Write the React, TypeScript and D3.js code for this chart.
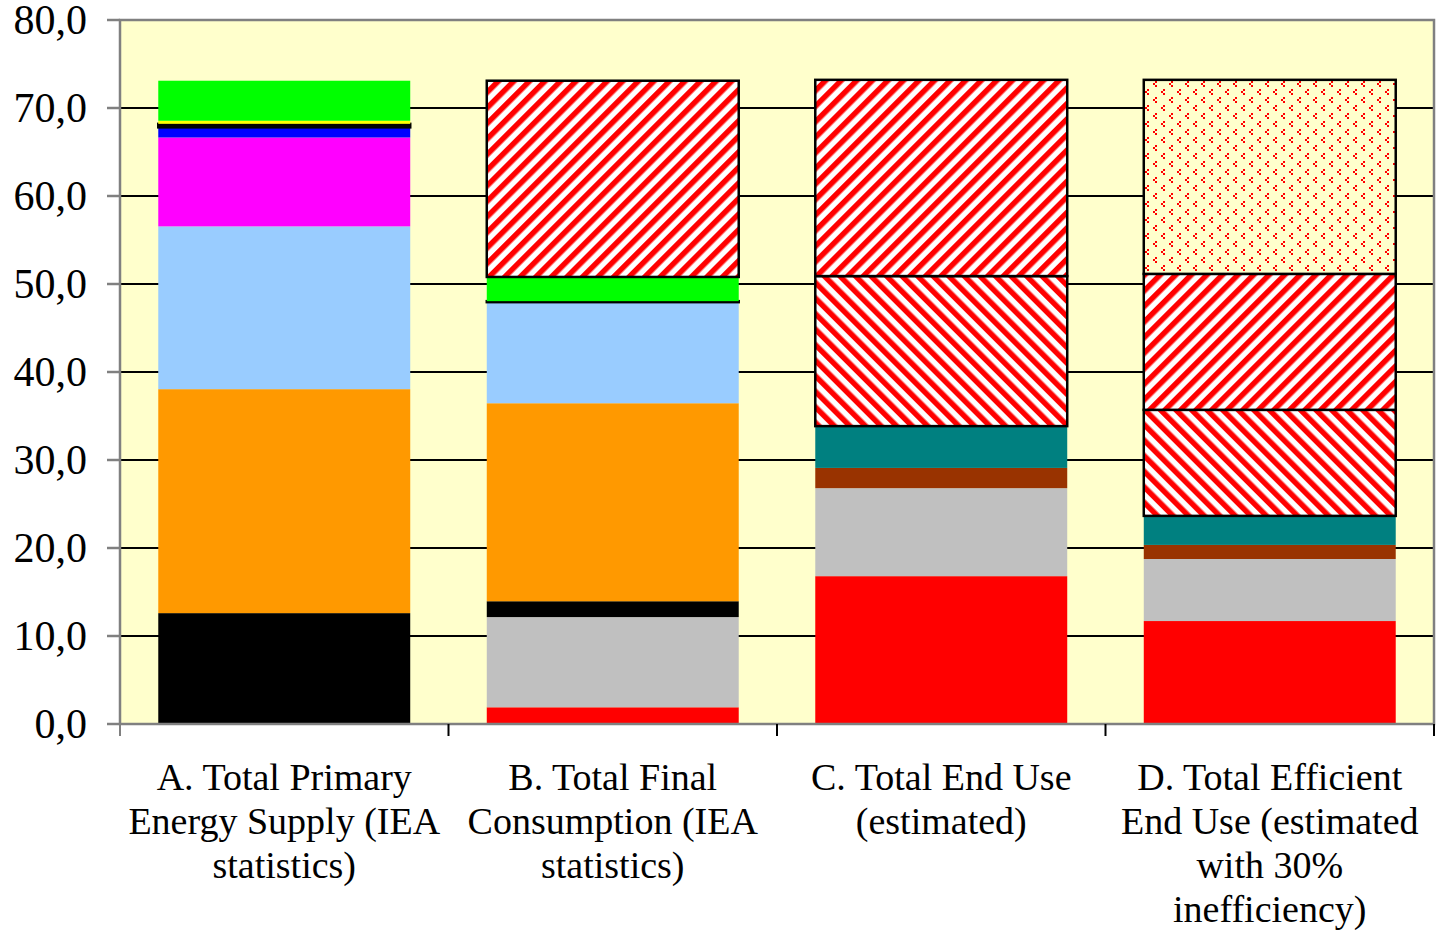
import React from "react";
import * as d3 from "d3";

const categories = ["A", "B", "C", "D"];
const categoryLabels = [
  ["A. Total Primary", "Energy Supply (IEA", "statistics)"],
  ["B. Total Final", "Consumption (IEA", "statistics)"],
  ["C. Total End Use", "(estimated)"],
  ["D. Total Efficient", "End Use (estimated", "with 30%", "inefficiency)"],
];

// series, stacked bottom to top; values per category A..D
const seriesKeys = [
  "electricity", "heat", "coal", "other1", "other2", "oil", "gas",
  "nuclear", "hydro", "misc", "yellow", "renewables",
  "hatchBack", "hatchFwd", "dotted",
];
const electricity = [0, 1.9, 16.8, 11.7];
const heat = [0, 10.25, 10.0, 7.05];
const coal = [12.6, 1.8, 0, 0];
const other1 = [0, 0, 2.3, 1.6];
const other2 = [0, 0, 4.75, 3.3];
const oil = [25.45, 22.5, 0, 0];
const gas = [18.5, 11.5, 0, 0];
const nuclear = [10.1, 0, 0, 0];
const hydro = [1.15, 0, 0, 0];
const misc = [0.4, 0.1, 0, 0];
const yellow = [0.35, 0, 0, 0];
const renewables = [4.55, 2.75, 0, 0];
const hatchBack = [0, 0, 17.05, 12.05];
const hatchFwd = [0, 22.3, 22.3, 15.45];
const dotted = [0, 0, 0, 22.05];

const seriesValues: Record<string, number[]> = {
  electricity, heat, coal, other1, other2, oil, gas, nuclear, hydro,
  misc, yellow, renewables, hatchBack, hatchFwd, dotted,
};

const fills: Record<string, string> = {
  electricity: "#FF0000",
  heat: "#C0C0C0",
  coal: "#000000",
  other1: "#993300",
  other2: "#008080",
  oil: "#FF9900",
  gas: "#99CCFF",
  nuclear: "#FF00FF",
  hydro: "#0000FF",
  misc: "#000000",
  yellow: "#FFFF00",
  renewables: "#00FF00",
  hatchBack: "url(#hatchBack)",
  hatchFwd: "url(#hatchFwd)",
  dotted: "url(#dotted)",
};
const outlined = new Set(["hatchBack", "hatchFwd", "dotted", "misc"]);

const yTicks = [0, 10, 20, 30, 40, 50, 60, 70, 80];

export default function App() {
  const W = 1436, H = 930;
  const left = 120, right = 1434, top = 20, bottom = 724;

  const x = d3.scaleBand<string>().domain(categories).range([left, right]).paddingInner(0.233).paddingOuter(0.1165);
  const xCat = d3.scaleBand<string>().domain(categories).range([left, right]);
  const y = d3.scaleLinear().domain([0, 80]).range([bottom, top]);

  const rows = categories.map((c, i) => {
    const r: any = { cat: c };
    seriesKeys.forEach((k) => (r[k] = seriesValues[k][i]));
    return r;
  });
  const stacked = d3.stack<any>().keys(seriesKeys)(rows);
  const fmt = (v: number) => v.toFixed(1).replace(".", ",");
  const serif = "'Liberation Serif', 'Times New Roman', serif";

  return (
    <svg width={W} height={H} style={{ position: "absolute", left: 0, top: 0, background: "#fff" }}>
      <defs>
        <pattern id="hatchFwd" patternUnits="userSpaceOnUse" width="11" height="11" patternTransform="rotate(45)">
          <rect width="11" height="11" fill="#fff" />
          <rect width="5.5" height="11" fill="#FF0000" />
        </pattern>
        <pattern id="hatchBack" patternUnits="userSpaceOnUse" width="11" height="11" patternTransform="rotate(-45)">
          <rect width="11" height="11" fill="#fff" />
          <rect width="5.5" height="11" fill="#FF0000" />
        </pattern>
        <pattern id="dotted" patternUnits="userSpaceOnUse" width="16" height="16">
          <rect width="16" height="16" fill="#FFFFCC" />
          <g fill="#FF0000">
            <rect x="3" y="1" width="2" height="2" />
            <rect x="1" y="3" width="2" height="2" />
            <rect x="3" y="5" width="2" height="2" />
            <rect x="11" y="9" width="2" height="2" />
            <rect x="9" y="11" width="2" height="2" />
            <rect x="11" y="13" width="2" height="2" />
          </g>
        </pattern>
      </defs>

      <rect x={left} y={top} width={right - left} height={bottom - top} fill="#FFFFCC" />

      {yTicks.filter((t) => t > 0 && t < 80).map((t) => (
        <line key={t} x1={left} x2={right} y1={y(t)} y2={y(t)} stroke="#000" strokeWidth={2} />
      ))}

      {stacked.map((s) =>
        s.map((d, i) => {
          const v = d[1] - d[0];
          if (v <= 0) return null;
          const key = s.key;
          const isOut = outlined.has(key);
          const bx = x(categories[i])!;
          const h = y(d[0]) - y(d[1]);
          return (
            <rect
              key={key + i}
              x={bx}
              y={y(d[1])}
              width={x.bandwidth()}
              height={Math.max(h, key === "misc" ? 1 : 0)}
              fill={fills[key]}
              stroke={isOut ? "#000" : "none"}
              strokeWidth={isOut ? 2.5 : 0}
            />
          );
        })
      )}

      <rect x={left} y={top} width={right - left} height={bottom - top} fill="none" stroke="#808080" strokeWidth={2.5} />

      {yTicks.map((t) => (
        <g key={t}>
          <line x1={left - 13} x2={left} y1={y(t)} y2={y(t)} stroke="#808080" strokeWidth={2.5} />
          <text x={87} y={y(t) + 14} textAnchor="end" fontFamily={serif} fontSize={42} fill="#000">
            {fmt(t)}
          </text>
        </g>
      ))}

      {[...categories.map((c) => xCat(c)!), right].map((px, i) => (
        <line key={i} x1={px} x2={px} y1={bottom} y2={bottom + 12} stroke={i === 0 ? "#808080" : "#000"} strokeWidth={2} />
      ))}

      {categories.map((c, i) => (
        <text key={c} textAnchor="middle" fontFamily={serif} fontSize={38} fill="#000">
          {categoryLabels[i].map((line, j) => (
            <tspan key={j} x={xCat(c)! + xCat.bandwidth() / 2} y={790 + j * 44}>
              {line}
            </tspan>
          ))}
        </text>
      ))}
    </svg>
  );
}
